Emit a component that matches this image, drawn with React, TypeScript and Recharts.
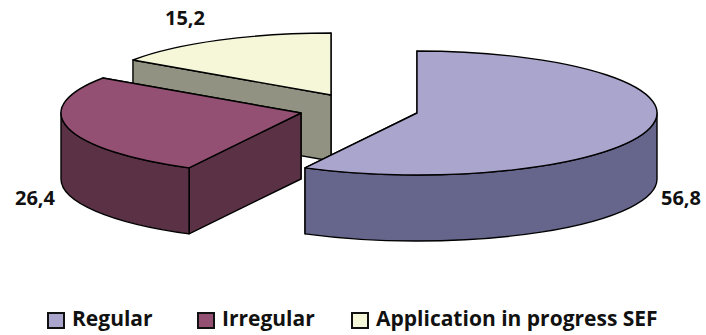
import React from "react";
import { PieChart, Pie, Legend } from "recharts";

const categories = ["Regular", "Irregular", "Application in progress SEF"];
const values = [56.8, 26.4, 15.2];
const valueLabels = ["56,8", "26,4", "15,2"];

const topColors = ["#A9A5CD", "#935073", "#F6F7D9"];
const wallColors = ["#66668D", "#5A3145", "#919281"];
const explode: [number, number][] = [[0, 0], [-116, 0], [-86, -18]];
const labelAnchor: [number, number][] = [[681, 205], [35, 205], [185, 25]];
const legendX = [48, 198, 352];

const TILT = 62 / 240;
const DEPTH = 66;
const FONT = "'Open Sans', sans-serif";

// Painted back to front, so the table runs in reverse and the pie turns the other way.
const table = categories
  .map((name, i) => ({ name, value: values[i], idx: i, fill: topColors[i] }))
  .reverse();

function Slice3D(props: any) {
  const { cx, cy, outerRadius: r, startAngle, endAngle, payload } = props;
  const i: number = payload.idx;
  const ox = cx + explode[i][0];
  const oy = cy + explode[i][1];
  const ry = r * TILT;
  const a0 = Math.min(startAngle, endAngle);
  const a1 = Math.max(startAngle, endAngle);
  const pt = (a: number): [number, number] => {
    const t = (a * Math.PI) / 180;
    return [ox + r * Math.cos(t), oy - ry * Math.sin(t)];
  };
  const [x0, y0] = pt(a0);
  const [x1, y1] = pt(a1);
  const large = a1 - a0 > 180 ? 1 : 0;
  const top = `M${ox},${oy} L${x0},${y0} A${r},${ry} 0 ${large} 0 ${x1},${y1} Z`;
  const face = (x: number, y: number) =>
    `M${ox},${oy} L${x},${y} L${x},${y + DEPTH} L${ox},${oy + DEPTH} Z`;
  const f0 = Math.max(a0, 180);
  const f1 = Math.min(a1, 360);
  let wall = "";
  if (f1 > f0) {
    const [wx0, wy0] = pt(f0);
    const [wx1, wy1] = pt(f1);
    wall = `M${wx0},${wy0} A${r},${ry} 0 0 0 ${wx1},${wy1} L${wx1},${wy1 + DEPTH} A${r},${ry} 0 0 1 ${wx0},${wy0 + DEPTH} Z`;
  }
  const common = { stroke: "#000", strokeWidth: 1.4, strokeLinejoin: "round" as const };
  const backFirst = y0 <= y1 ? [face(x0, y0), face(x1, y1)] : [face(x1, y1), face(x0, y0)];
  return (
    <g>
      {backFirst.map((d, k) => (
        <path key={k} d={d} fill={wallColors[i]} {...common} />
      ))}
      {wall && <path d={wall} fill={wallColors[i]} {...common} />}
      <path d={top} fill={topColors[i]} {...common} />
    </g>
  );
}

function sliceLabel(props: any) {
  const i: number = props.payload.idx;
  return (
    <text
      x={labelAnchor[i][0]}
      y={labelAnchor[i][1]}
      textAnchor="middle"
      fontFamily={FONT}
      fontWeight={700}
      fontSize={20}
      fill="#111"
    >
      {valueLabels[i]}
    </text>
  );
}

function LegendRow() {
  return (
    <svg width={706} height={35} style={{ display: "block", overflow: "visible" }}>
      {categories.map((c, i) => (
        <g key={c}>
          <rect x={legendX[i]} y={13} width={16} height={15} fill={topColors[i]} stroke="#111" strokeWidth={2} />
          <text x={legendX[i] + 24} y={26} fontFamily={FONT} fontWeight={700} fontSize={21} fill="#111">
            {c}
          </text>
        </g>
      ))}
    </svg>
  );
}

export default function App() {
  return (
    <div style={{ position: "absolute", left: 0, top: 0, width: 706, height: 335 }}>
      <PieChart width={706} height={335} margin={{ top: 0, right: 0, bottom: 0, left: 0 }}>
        <Pie
          data={table}
          dataKey="value"
          nameKey="name"
          cx={417}
          cy={113}
          innerRadius={0}
          outerRadius={240}
          startAngle={90}
          endAngle={450}
          paddingAngle={0}
          isAnimationActive={false}
          shape={Slice3D}
          label={sliceLabel}
          labelLine={false}
        />
        <Legend
          content={LegendRow}
          wrapperStyle={{ position: "absolute", left: 0, top: 300, width: 706, height: 35 }}
        />
      </PieChart>
    </div>
  );
}
